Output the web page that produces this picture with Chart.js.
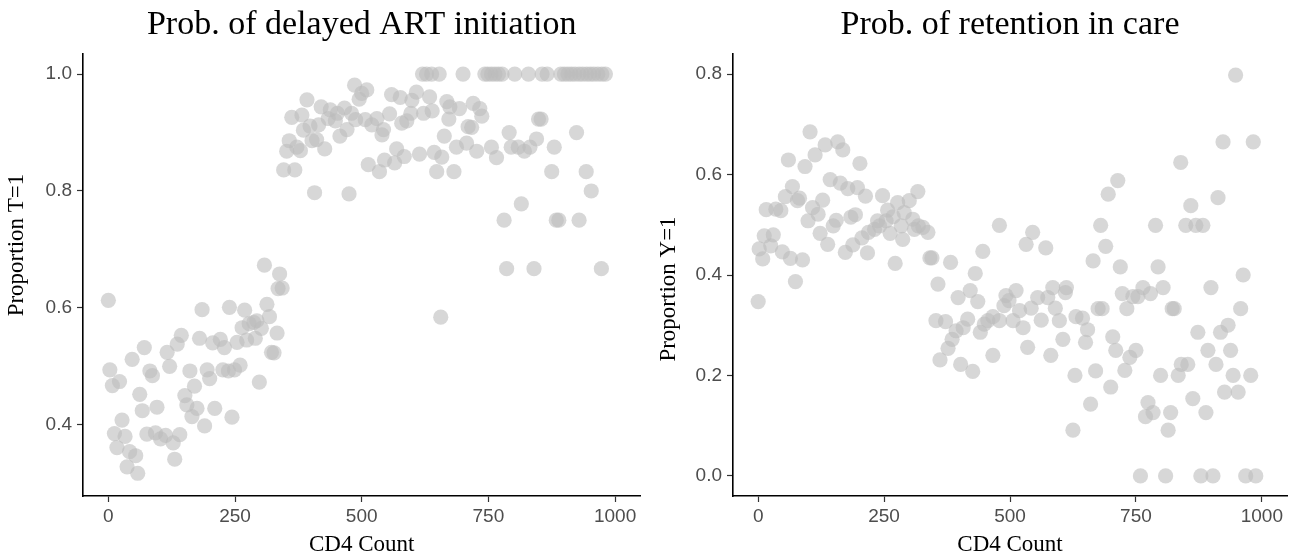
<!DOCTYPE html>
<html>
<head>
<meta charset="utf-8">
<script src="https://cdn.jsdelivr.net/npm/chart.js@4.4.0/dist/chart.umd.min.js"></script>
<style>
  body { margin: 0; background: #fff; }
  .panel { position: absolute; top: 0; }
</style>
</head>
<body>
<canvas id="delay" class="panel" width="648" height="558" style="left:0"></canvas>
<canvas id="retain" class="panel" width="648" height="558" style="left:648px"></canvas>
<script>
// CD4 count vs proportion delayed ART initiation (T=1)
const cd4Delay = [0,3,8,12,17,22,27,33,37,42,47,54,58,62,67,71,76,82,87,93,96,103,113,116,121,128,131,136,141,144,
  151,155,161,165,170,175,180,185,190,195,200,206,210,221,226,229,237,239,244,249,254,260,264,269,273,278,287,290,293,298,
  302,308,313,318,322,327,333,335,338,343,
  346,352,357,362,368,372,379,382,385,392,398,402,407,411,415,420,427,434,438,448,452,457,466,471,475,480,486,488,495,500,
  507,510,513,520,530,535,540,543,545,555,559,565,569,576,579,584,589,597,599,608,614,620,622,628,634,638,639,643,648,653,
  656,658,663,668,672,674,682,687,693,700,707,710,717,720,727,733,737,743,749,756,756,763,766,770,777,781,786,791,795,802,
  809,815,821,829,832,840,845,849,854,856,866,875,880,884,889,893,900,907,914,921,924,929,929,936,943,944,951,953,958,966,
  973,974,981];
const propDelay = [0.613,0.494,0.467,0.385,0.361,0.474,0.408,0.380,0.328,0.354,0.512,0.347,0.317,0.452,0.424,0.532,0.384,0.492,0.484,0.386,0.430,0.376,0.382,0.524,0.500,0.369,0.341,0.538,0.383,0.553,
  0.450,0.434,0.492,0.414,0.466,0.428,0.548,0.597,0.398,0.494,0.479,0.540,0.428,0.546,0.494,0.532,0.492,0.601,0.413,0.494,0.541,0.502,0.566,0.596,0.545,0.573,0.575,0.548,0.578,0.473,
  0.565,0.673,0.606,0.585,0.524,0.523,0.557,0.633,0.658,0.634,
  0.836,0.868,0.886,0.926,0.836,0.875,0.869,0.930,0.904,0.956,0.911,0.886,0.797,0.888,0.913,0.944,0.872,0.924,0.939,0.920,0.933,0.894,0.942,0.905,0.795,0.933,0.981,0.922,0.957,0.967,
  0.922,0.973,0.845,0.913,0.924,0.833,0.896,0.905,0.853,0.932,0.965,0.848,0.872,0.960,0.916,0.859,0.920,0.933,0.955,0.969,0.863,1,0.933,1,0.961,1,0.937,0.866,0.833,1,
  0.584,0.858,0.894,0.953,0.923,0.944,0.833,0.875,0.941,1,0.882,0.910,0.909,0.950,0.868,0.941,0.928,1,1,1,0.875,1,0.857,1,1,0.75,0.667,0.9,0.875,1,
  0.875,0.778,0.868,1,0.875,0.667,0.889,0.923,0.923,1,1,0.833,0.875,0.75,0.75,1,1,1,1,1,0.9,0.75,1,1,0.833,1,1,0.8,1,1,
  0.667,1,1];

// CD4 count vs proportion retained in care (Y=1)
const cd4Retain = [0,2,9,12,16,25,30,35,45,48,54,60,64,68,74,78,82,88,93,99,103,108,113,119,123,128,133,138,143,149,
  155,158,163,168,173,178,184,188,193,197,202,206,213,217,219,231,237,241,247,254,257,262,268,272,277,284,287,290,300,307,
  310,317,318,327,337,341,345,353,357,361,372,377,382,385,393,397,402,407,416,421,426,431,436,441,446,449,456,466,466,479,
  479,488,492,498,506,512,519,526,532,535,542,545,555,562,571,575,581,585,590,598,605,610,612,625,629,631,644,650,654,660,
  665,670,675,680,683,690,695,700,704,710,714,719,723,728,732,738,744,750,754,759,764,769,774,779,784,789,794,799,804,809,
  814,819,822,826,834,839,840,849,853,859,863,869,873,879,883,889,893,899,903,909,913,918,923,926,933,938,943,948,953,958,
  963,968,978,983,988];
const propRetain = [0.347,0.452,0.432,0.478,0.530,0.458,0.480,0.531,0.528,0.446,0.556,0.629,0.433,0.576,0.387,0.548,0.553,0.430,0.616,0.508,0.685,0.534,0.639,0.521,0.483,0.549,0.659,0.461,0.590,0.498,
  0.509,0.665,0.583,0.649,0.445,0.572,0.515,0.460,0.520,0.574,0.622,0.474,0.557,0.444,0.485,0.491,0.508,0.498,0.558,0.508,0.529,0.483,0.516,0.423,0.544,0.498,0.471,0.524,0.548,0.511,
  0.491,0.566,0.498,0.495,0.485,0.434,0.434,0.309,0.382,0.231,0.307,0.254,0.425,0.272,0.289,0.355,0.222,0.295,0.312,0.369,0.208,0.403,0.347,0.286,0.447,0.302,0.309,0.317,0.240,0.499,
  0.309,0.339,0.359,0.349,0.309,0.369,0.329,0.295,0.461,0.256,0.334,0.485,0.355,0.310,0.454,0.355,0.240,0.375,0.334,0.309,0.272,0.365,0.375,0.091,0.200,0.317,0.314,0.266,0.291,0.143,
  0.428,0.209,0.333,0.499,0.333,0.457,0.561,0.177,0.277,0.250,0.588,0.416,0.363,0.210,0.333,0.236,0.357,0.250,0.357,0,0.375,0.118,0.146,0.363,0.126,0.499,0.416,0.200,0.375,0,
  0.091,0.126,0.333,0.333,0.200,0.624,0.222,0.499,0.222,0.538,0.154,0.499,0.286,0,0.499,0.126,0.250,0.375,0,0.222,0.554,0.286,0.665,0.167,0.300,0.250,0.200,0.798,0.167,0.333,
  0.400,0,0.200,0.665,0];

const xTicks = [0, 250, 500, 750, 1000];
const yTicksDelay = [0.4, 0.6, 0.8, 1.0];
const yTicksRetain = [0.0, 0.2, 0.4, 0.6, 0.8];

const tickFont = { family: "Liberation Sans", size: 19 };
const titleFont = { family: "Liberation Serif", size: 23 };

// y axis title drawn by hand so its vertical spot can follow the reference
const yTitlePlugin = {
  id: "yTitle",
  afterDraw: (chart, args, opts) => {
    const { ctx } = chart;
    ctx.save();
    ctx.translate(opts.x, opts.y);
    ctx.rotate(-Math.PI / 2);
    ctx.font = titleFont.size + "px " + titleFont.family;
    ctx.fillStyle = "#000";
    ctx.textAlign = "center";
    ctx.textBaseline = "middle";
    ctx.fillText(opts.text, 0, 0);
    ctx.restore();
  },
};

function makePanel(canvasId, title, yLabel, xs, ys, yMin, yMax, yTicks, yWidth, padRight, yTitlePos) {
  const points = xs.map((x, i) => ({ x: x, y: ys[i] }));
  return new Chart(document.getElementById(canvasId), {
    type: "scatter",
    data: {
      datasets: [{
        data: points,
        pointRadius: 7.6,
        pointHoverRadius: 7.6,
        backgroundColor: "rgba(188,188,188,0.6)",
        borderWidth: 0,
      }],
    },
    options: {
      responsive: false,
      animation: false,
      devicePixelRatio: 1,
      events: [],
      layout: { padding: { left: 0, right: padRight, top: 0, bottom: 0 } },
      plugins: {
        legend: { display: false },
        tooltip: { enabled: false },
        title: {
          display: true,
          text: title,
          fullSize: false,
          color: "#000",
          font: { family: "Liberation Serif", size: 34, weight: "normal" },
          padding: { top: 5, bottom: 8.2 },
        },
        yTitle: { text: yLabel, x: yTitlePos[0], y: yTitlePos[1] },
      },
      scales: {
        x: {
          type: "linear",
          min: -50,
          max: 1050,
          border: { display: true, color: "#000", width: 1.6 },
          grid: { drawOnChartArea: false, drawTicks: true, tickLength: 6, tickColor: "#333", tickWidth: 1.2 },
          ticks: { font: tickFont, color: "#4d4d4d", padding: 3, maxRotation: 0, callback: (v) => String(v) },
          afterBuildTicks: (s) => { s.ticks = xTicks.map((v) => ({ value: v })); },
          afterFit: (s) => { s.height = 62; },
          title: { display: true, text: "CD4 Count", color: "#000", font: titleFont, padding: { top: 0, bottom: -1 } },
        },
        y: {
          type: "linear",
          min: yMin,
          max: yMax,
          border: { display: true, color: "#000", width: 1.6 },
          grid: { drawOnChartArea: false, drawTicks: true, tickLength: 6, tickColor: "#333", tickWidth: 1.2 },
          ticks: { font: tickFont, color: "#4d4d4d", padding: 5, callback: (v) => v.toFixed(1) },
          afterBuildTicks: (s) => { s.ticks = yTicks.map((v) => ({ value: v })); },
          afterFit: (s) => { s.width = yWidth; },
        },
      },
    },
    plugins: [yTitlePlugin],
  });
}

makePanel("delay", "Prob. of delayed ART initiation", "Proportion T=1",
  cd4Delay, propDelay, 0.2781, 1.0344, yTicksDelay, 83, 6, [17, 245]);
makePanel("retain", "Prob. of retention in care", "Proportion Y=1",
  cd4Retain, propRetain, -0.04, 0.84, yTicksRetain, 85, 9, [21, 289]);
</script>
</body>
</html>
